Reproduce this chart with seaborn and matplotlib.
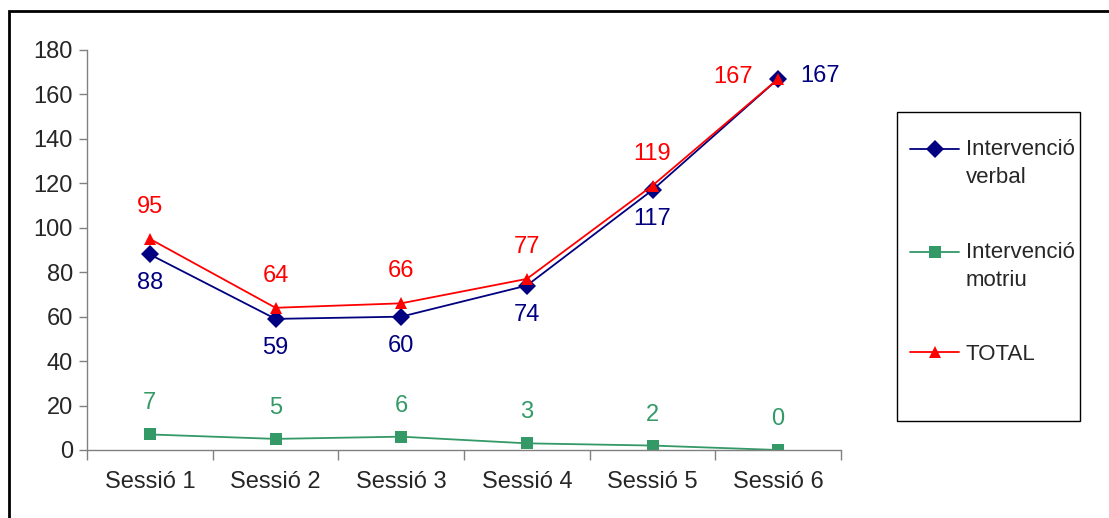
import matplotlib
matplotlib.use("Agg")
import matplotlib.pyplot as plt
from matplotlib.patches import Rectangle
from matplotlib.legend_handler import HandlerLine2D
import numpy as np
import pandas as pd
import seaborn as sns

sessions = ["Sessió 1", "Sessió 2", "Sessió 3", "Sessió 4", "Sessió 5", "Sessió 6"]
verbal = [88, 59, 60, 74, 117, 167]
motriu = [7, 5, 6, 3, 2, 0]
total = [95, 64, 66, 77, 119, 167]
series_names = ["Intervenció\nverbal", "Intervenció\nmotriu", "TOTAL"]
y_ticks = [0, 20, 40, 60, 80, 100, 120, 140, 160, 180]

colors = {series_names[0]: "#000080", series_names[1]: "#339966", series_names[2]: "#FF0000"}
markers = {series_names[0]: "D", series_names[1]: "s", series_names[2]: "^"}

df = pd.DataFrame({
    "sessio": sessions * 3,
    "valor": verbal + motriu + total,
    "serie": [series_names[0]] * 6 + [series_names[1]] * 6 + [series_names[2]] * 6,
})

sns.set_theme(style="white")
plt.rcParams["font.family"] = ["Liberation Sans", "DejaVu Sans"]

fs = 17
legend_fs = 16


class TopAlignedLine(HandlerLine2D):
    """Place the legend sample level with the first line of a two-line label."""

    def __init__(self, shift, **kw):
        super().__init__(**kw)
        self.shift = shift

    def create_artists(self, legend, orig_handle, xdescent, ydescent, width,
                       height, fontsize, trans):
        artists = super().create_artists(legend, orig_handle, xdescent, ydescent,
                                         width, height, fontsize, trans)
        for a in artists:
            a.set_ydata(np.asarray(a.get_ydata()) + self.shift)
        return artists


W, H = 1109, 518
fig = plt.figure(figsize=(W / 100, H / 100), dpi=100)
ax = fig.add_axes([87 / W, (H - 450) / H, (841 - 87) / W, 400 / H])

sns.lineplot(data=df, x="sessio", y="valor", hue="serie", style="serie",
             palette=colors, markers=markers, dashes=False, sort=False,
             markersize=9, linewidth=1.3, markeredgewidth=0, ax=ax)

ax.set_xlim(-0.5, 5.5)
ax.set_ylim(0, 180)
ax.set_yticks(y_ticks)
ax.set_xticks(range(len(sessions)))
ax.set_xticklabels(sessions)
ax.set_xticks(np.arange(-0.5, 6.0, 1.0), minor=True)
ax.set_xlabel("")
ax.set_ylabel("")
ax.tick_params(axis="y", which="major", direction="out", length=6, width=1,
               color="#808080", labelsize=fs, pad=4, left=True)
ax.tick_params(axis="x", which="major", length=0, labelsize=fs, pad=15)
ax.tick_params(axis="x", which="minor", direction="out", length=7, width=1,
               color="#808080", bottom=True)
for s in ["top", "right"]:
    ax.spines[s].set_visible(False)
for s in ["left", "bottom"]:
    ax.spines[s].set_color("#808080")
    ax.spines[s].set_linewidth(1)

for i, v in enumerate(verbal):
    off = (42, 3) if i == len(verbal) - 1 else (0, -29)
    ax.annotate(str(v), (i, v), xytext=off, textcoords="offset pixels",
                ha="center", va="center", color=colors[series_names[0]], fontsize=fs)
for i, v in enumerate(total):
    off = (-45, 2) if i == len(total) - 1 else (0, 32)
    ax.annotate(str(v), (i, v), xytext=off, textcoords="offset pixels",
                ha="center", va="center", color=colors[series_names[2]], fontsize=fs)
for i, v in enumerate(motriu):
    ax.annotate(str(v), (i, v), xytext=(0, 31), textcoords="offset pixels",
                ha="center", va="center", color=colors[series_names[1]], fontsize=fs)

# legend box
fig.patches.append(Rectangle((897 / W, (H - 421) / H), (1080 - 897) / W, (421 - 112) / H,
                             transform=fig.transFigure, fill=False,
                             edgecolor="#000000", linewidth=1))
handles, labels = ax.get_legend_handles_labels()
ax.get_legend().remove()
two_line = TopAlignedLine(shift=10.5)
leg = fig.legend(handles, labels, loc="center left",
                 bbox_to_anchor=(899 / W, (H - 252) / H),
                 frameon=False, fontsize=legend_fs, handlelength=2.2, handletextpad=0.3,
                 labelspacing=2.4, borderpad=0,
                 handler_map={handles[0]: two_line, handles[1]: two_line})
for t in leg.get_texts():
    t.set_linespacing(1.45)

# outer chart border
fig.patches.append(Rectangle((9 / W, -0.1), 1.2, (H - 11) / H + 0.1,
                             transform=fig.transFigure, fill=False,
                             edgecolor="#000000", linewidth=2))

fig.savefig("out.png", dpi=100)
